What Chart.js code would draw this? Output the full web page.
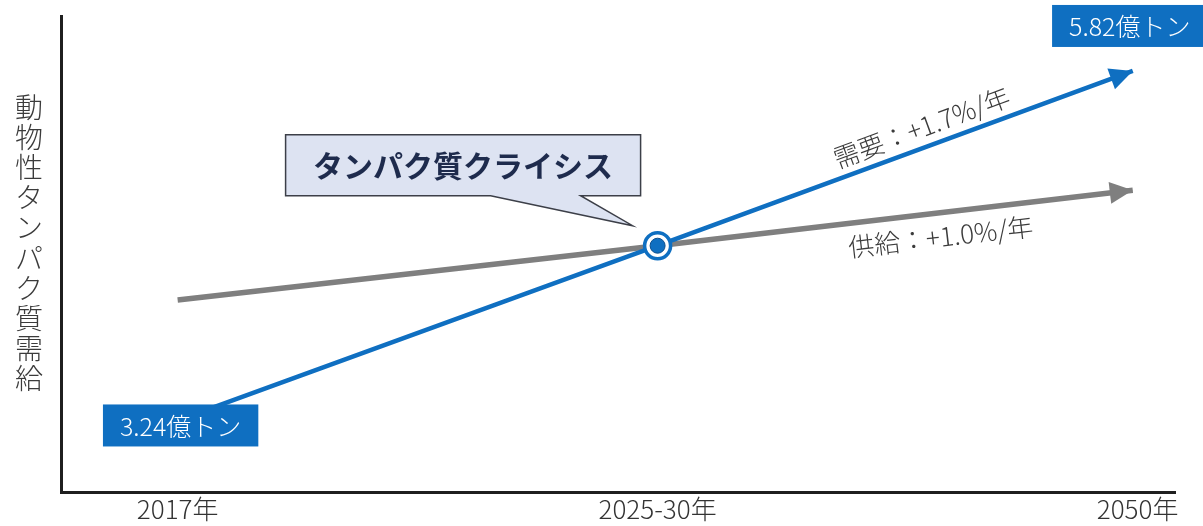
<!DOCTYPE html>
<html>
<head>
<meta charset="utf-8">
<script src="https://cdn.jsdelivr.net/npm/chart.js@4.4.1/dist/chart.umd.min.js"></script>
<style>
  body { margin: 0; background: #fff; }
  #wrap { width: 1203px; height: 526px; position: relative; }
</style>
</head>
<body>
<div id="wrap"><canvas id="myChart"></canvas></div>
<script>
// x positions: 0 = 2017年, 1 = 2025-30年, 2 = 2050年
const xTickValues = [0, 1, 2];
const xTickLabels = ['2017年', '2025-30年', '2050年'];

// demand / supply (億トン)
const demandX = [0, 1, 1.99];
const demandValues = [3.24, 4.53, 5.82];
const supplyX = [0, 1, 1.99];
const supplyValues = [4.13, 4.53, 4.94];

// crossing point
const crossX = [1];
const crossValues = [4.53];

const yTitle = '動物性タンパク質需給';
const startLabel = '3.24億トン';
const endLabel = '5.82億トン';
const calloutText = 'タンパク質クライシス';
const demandText = '需要：+1.7%/年';
const supplyText = '供給：+1.0%/年';

const FONT = "'Noto Sans CJK JP', 'Noto Sans', sans-serif";
const BLUE = '#0f6fc1';
const GRAY = '#7f7f7f';

function pts(xs, ys) {
  return xs.map((v, i) => ({ x: v, y: ys[i] }));
}

function arrowHead(ctx, from, to, color, len, half) {
  const a = Math.atan2(to.y - from.y, to.x - from.x);
  ctx.save();
  ctx.translate(to.x, to.y);
  ctx.rotate(a);
  ctx.beginPath();
  ctx.moveTo(0, 0);
  ctx.lineTo(-len, -half);
  ctx.lineTo(-len, half);
  ctx.closePath();
  ctx.fillStyle = color;
  ctx.fill();
  ctx.restore();
}

function blueBox(ctx, cx, top, text) {
  ctx.font = '300 25px ' + FONT;
  const w = ctx.measureText(text).width + 34;
  const h = 42;
  ctx.fillStyle = BLUE;
  ctx.fillRect(cx - w / 2, top, w, h);
  ctx.fillStyle = '#fff';
  ctx.textAlign = 'center';
  ctx.textBaseline = 'middle';
  ctx.fillText(text, cx, top + h / 2 + 1);
}

// text along a segment, offset perpendicular to it
function alongText(ctx, p1, p2, t, off, text) {
  const a = Math.atan2(p2.y - p1.y, p2.x - p1.x);
  const mx = p1.x + (p2.x - p1.x) * t;
  const my = p1.y + (p2.y - p1.y) * t;
  ctx.save();
  ctx.translate(mx - Math.sin(a) * off, my + Math.cos(a) * off);
  ctx.rotate(a);
  ctx.font = '300 26px ' + FONT;
  ctx.fillStyle = '#3b3b3b';
  ctx.textAlign = 'center';
  ctx.textBaseline = 'middle';
  ctx.fillText(text, 0, 0);
  ctx.restore();
}

const overlay = {
  id: 'overlay',
  afterDatasetsDraw(chart) {
    const ctx = chart.ctx;
    const xs = chart.scales.x, ys = chart.scales.y;
    const px = (xv, yv) => ({ x: xs.getPixelForValue(xv), y: ys.getPixelForValue(yv) });

    const d0 = px(demandX[0], demandValues[0]);
    const d1 = px(demandX[1], demandValues[1]);
    const d2 = px(demandX[2], demandValues[2]);
    const s1 = px(supplyX[1], supplyValues[1]);
    const s2 = px(supplyX[2], supplyValues[2]);
    const c = px(crossX[0], crossValues[0]);

    arrowHead(ctx, s1, s2, GRAY, 23, 11);
    arrowHead(ctx, d1, d2, BLUE, 23, 11);

    // value boxes
    blueBox(ctx, xs.getPixelForValue(xTickValues[0]) + 3, d0.y - 16, startLabel);
    blueBox(ctx, d2.x - 3, d2.y - 66, endLabel);

    // rate labels
    alongText(ctx, d1, d2, 0.57, -20, demandText);
    alongText(ctx, s1, s2, 0.59, 24, supplyText);

    // callout
    const left = c.x - 372, right = c.x - 17, top = c.y - 111, bottom = c.y - 50;
    ctx.save();
    ctx.beginPath();
    ctx.moveTo(left, top);
    ctx.lineTo(right, top);
    ctx.lineTo(right, bottom);
    ctx.lineTo(c.x - 77, bottom);
    ctx.lineTo(c.x - 25, c.y - 20);
    ctx.lineTo(c.x - 167, bottom);
    ctx.lineTo(left, bottom);
    ctx.closePath();
    ctx.fillStyle = '#dde3f2';
    ctx.fill();
    ctx.lineWidth = 1.5;
    ctx.strokeStyle = '#3c3f48';
    ctx.stroke();
    ctx.font = 'bold 30px ' + FONT;
    ctx.fillStyle = '#1e2b4d';
    ctx.textAlign = 'center';
    ctx.textBaseline = 'middle';
    ctx.fillText(calloutText, (left + right) / 2, (top + bottom) / 2);
    ctx.restore();

    // vertical y-axis title
    ctx.save();
    ctx.font = '300 28px ' + FONT;
    ctx.fillStyle = '#3b3b3b';
    ctx.textAlign = 'center';
    ctx.textBaseline = 'middle';
    const chars = Array.from(yTitle);
    chars.forEach((ch, i) => {
      ctx.fillText(ch, 29, 107 + i * 30.2);
    });
    ctx.restore();
  }
};

new Chart(document.getElementById('myChart'), {
  type: 'line',
  data: {
    datasets: [
      {
        // inner dot of the crossing marker
        type: 'scatter',
        data: pts(crossX, crossValues),
        pointRadius: 7.5,
        pointBackgroundColor: BLUE,
        pointBorderColor: '#0b4f8f',
        pointBorderWidth: 1,
        order: -2
      },
      {
        // ring of the crossing marker
        type: 'scatter',
        data: pts(crossX, crossValues),
        pointRadius: 13,
        pointBackgroundColor: '#fff',
        pointBorderColor: BLUE,
        pointBorderWidth: 3.5,
        order: -1
      },
      {
        label: '需要',
        data: pts(demandX, demandValues),
        borderColor: BLUE,
        borderWidth: 4.5,
        pointRadius: 0,
        tension: 0,
        order: 1
      },
      {
        label: '供給',
        data: pts(supplyX, supplyValues),
        borderColor: GRAY,
        borderWidth: 5.5,
        pointRadius: 0,
        tension: 0,
        order: 2
      }
    ]
  },
  options: {
    responsive: true,
    maintainAspectRatio: false,
    animation: false,
    layout: { padding: { left: 61, right: 28, top: 12, bottom: 0 } },
    plugins: {
      legend: { display: false },
      tooltip: { enabled: false }
    },
    scales: {
      x: {
        type: 'linear',
        min: -0.243,
        max: 2.078,
        afterBuildTicks: (scale) => {
          scale.ticks = xTickValues.map(v => ({ value: v }));
        },
        ticks: {
          autoSkip: false,
          maxRotation: 0,
          padding: 1,
          color: '#333',
          font: { family: FONT, size: 26, weight: 300 },
          callback: (v, i) => xTickLabels[i]
        },
        grid: { display: false, drawTicks: false },
        border: { display: true, color: '#1f1f1f', width: 3 }
      },
      y: {
        min: 2.706,
        max: 6.222,
        ticks: { display: false },
        grid: { display: false, drawTicks: false },
        border: { display: true, color: '#1f1f1f', width: 3 }
      }
    }
  },
  plugins: [overlay]
});
</script>
</body>
</html>
